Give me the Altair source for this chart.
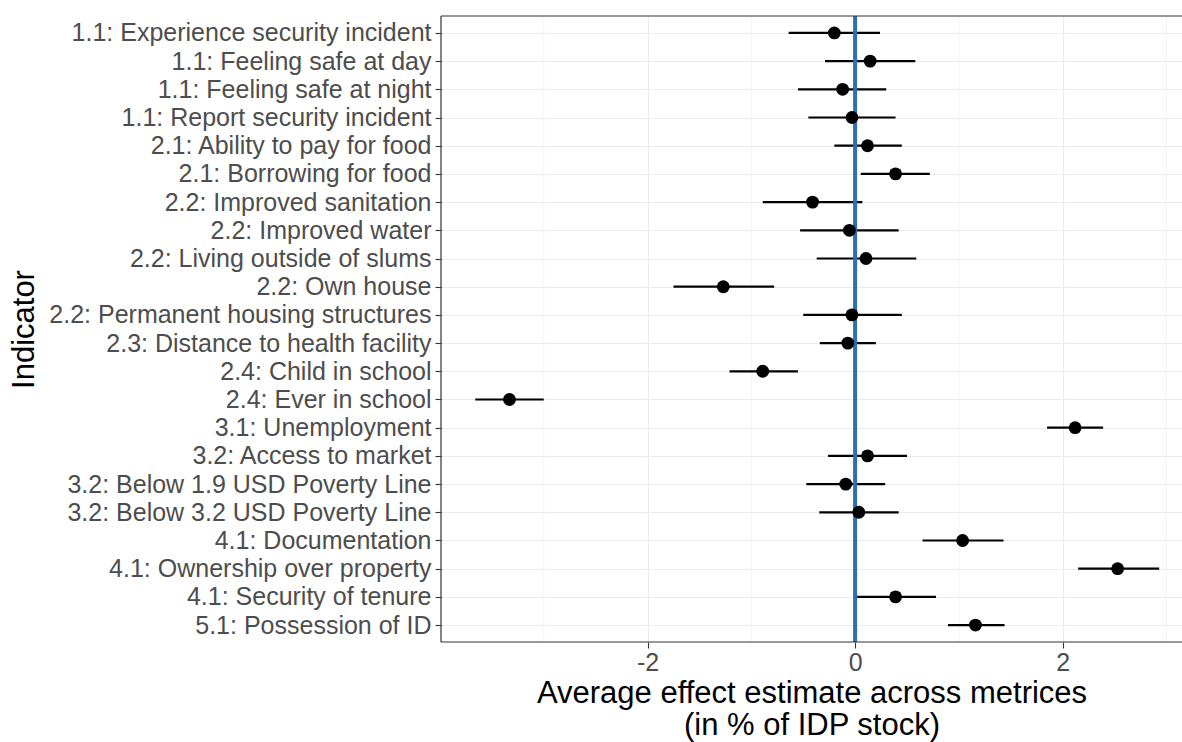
import altair as alt
import pandas as pd

indicators = [
    "1.1: Experience security incident",
    "1.1: Feeling safe at day",
    "1.1: Feeling safe at night",
    "1.1: Report security incident",
    "2.1: Ability to pay for food",
    "2.1: Borrowing for food",
    "2.2: Improved sanitation",
    "2.2: Improved water",
    "2.2: Living outside of slums",
    "2.2: Own house",
    "2.2: Permanent housing structures",
    "2.3: Distance to health facility",
    "2.4: Child in school",
    "2.4: Ever in school",
    "3.1: Unemployment",
    "3.2: Access to market",
    "3.2: Below 1.9 USD Poverty Line",
    "3.2: Below 3.2 USD Poverty Line",
    "4.1: Documentation",
    "4.1: Ownership over property",
    "4.1: Security of tenure",
    "5.1: Possession of ID",
]
estimate = [-0.20, 0.145, -0.12, -0.03, 0.12, 0.39, -0.41, -0.055, 0.105, -1.27, -0.03,
            -0.07, -0.89, -3.33, 2.12, 0.12, -0.09, 0.036, 1.036, 2.53, 0.39, 1.16]
lower = [-0.64, -0.29, -0.55, -0.45, -0.20, 0.055, -0.89, -0.53, -0.37, -1.75, -0.50,
         -0.34, -1.21, -3.66, 1.85, -0.26, -0.47, -0.345, 0.65, 2.15, 0.0, 0.895]
upper = [0.24, 0.58, 0.30, 0.39, 0.45, 0.72, 0.07, 0.42, 0.59, -0.78, 0.45,
         0.20, -0.55, -3.0, 2.39, 0.50, 0.29, 0.42, 1.43, 2.93, 0.78, 1.44]
major_ticks = [-2, 0, 2]
minor_grid = [-3, -1, 1, 3]
ref_line = [0]

W, H = 741, 626
FONT = "Liberation Sans"

df = pd.DataFrame({"indicator": indicators, "est": estimate, "lo": lower, "hi": upper})

xscale = alt.Scale(domain=[-3.99, 3.15], nice=False, zero=False)
yscale = alt.Scale(type="point", padding=0.6)

xaxis = alt.Axis(
    values=major_ticks, grid=True, gridColor="#EBEBEB", gridWidth=1.1,
    domain=False, ticks=True, tickColor="#333333", tickSize=6, tickWidth=1.1,
    labelFontSize=25, labelColor="#4D4D4D", labelFont=FONT, labelPadding=2,
    labelExpr="'' + datum.value",
    title=["Average effect estimate across metrices", "(in % of IDP stock)"],
    titleFontSize=31, titleFont=FONT, titleFontWeight="normal", titleColor="black",
    titleLineHeight=32, titlePadding=3,
)
yaxis = alt.Axis(
    grid=True, gridColor="#EBEBEB", gridWidth=1.1, domain=False,
    tickColor="#333333", tickSize=6, tickWidth=1.1,
    labelFontSize=25, labelColor="#4D4D4D", labelFont=FONT, labelPadding=4,
    labelLimit=600,
    title="Indicator", titleFontSize=31, titleFont=FONT, titleFontWeight="normal",
    titleColor="black", titleAngle=-90, titleX=-417, titleY=H / 2,
    titleAlign="center", titleBaseline="middle",
)

base = alt.Chart(df)

minor = alt.Chart(pd.DataFrame({"v": minor_grid})).mark_rule(
    color="#EBEBEB", strokeWidth=0.6
).encode(x=alt.X("v:Q", scale=xscale, axis=xaxis))

bars = base.mark_rule(color="black", strokeWidth=2.2).encode(
    y=alt.Y("indicator:N", sort=indicators, scale=yscale, axis=yaxis),
    x=alt.X("lo:Q", scale=xscale, axis=xaxis),
    x2="hi:Q",
)

vline = alt.Chart(pd.DataFrame({"v": ref_line})).mark_rule(
    color="#2C6EB8", strokeWidth=4
).encode(x=alt.X("v:Q", scale=xscale, axis=xaxis))

points = base.mark_circle(color="black", opacity=1, size=165).encode(
    y=alt.Y("indicator:N", sort=indicators, scale=yscale, axis=yaxis),
    x=alt.X("est:Q", scale=xscale, axis=xaxis),
)

one = pd.DataFrame({"a": [0]})
frame_top = alt.Chart(one).mark_rule(color="#333333", strokeWidth=1.2).encode(
    x=alt.value(0), x2=alt.value(W), y=alt.value(0))
frame_bottom = alt.Chart(one).mark_rule(color="#333333", strokeWidth=1.2).encode(
    x=alt.value(0), x2=alt.value(W), y=alt.value(H))
frame_left = alt.Chart(one).mark_rule(color="#333333", strokeWidth=1.2).encode(
    x=alt.value(0), y=alt.value(0), y2=alt.value(H))

chart = alt.layer(minor, bars, vline, points, frame_top, frame_bottom, frame_left).properties(
    width=W, height=H,
    autosize=alt.AutoSizeParams(type="none"),
    padding={"left": 441, "top": 16, "right": 0, "bottom": 100},
    background="white",
).configure_view(stroke=None)

chart.save("out.html", embed_options={"renderer": "svg", "actions": False})
